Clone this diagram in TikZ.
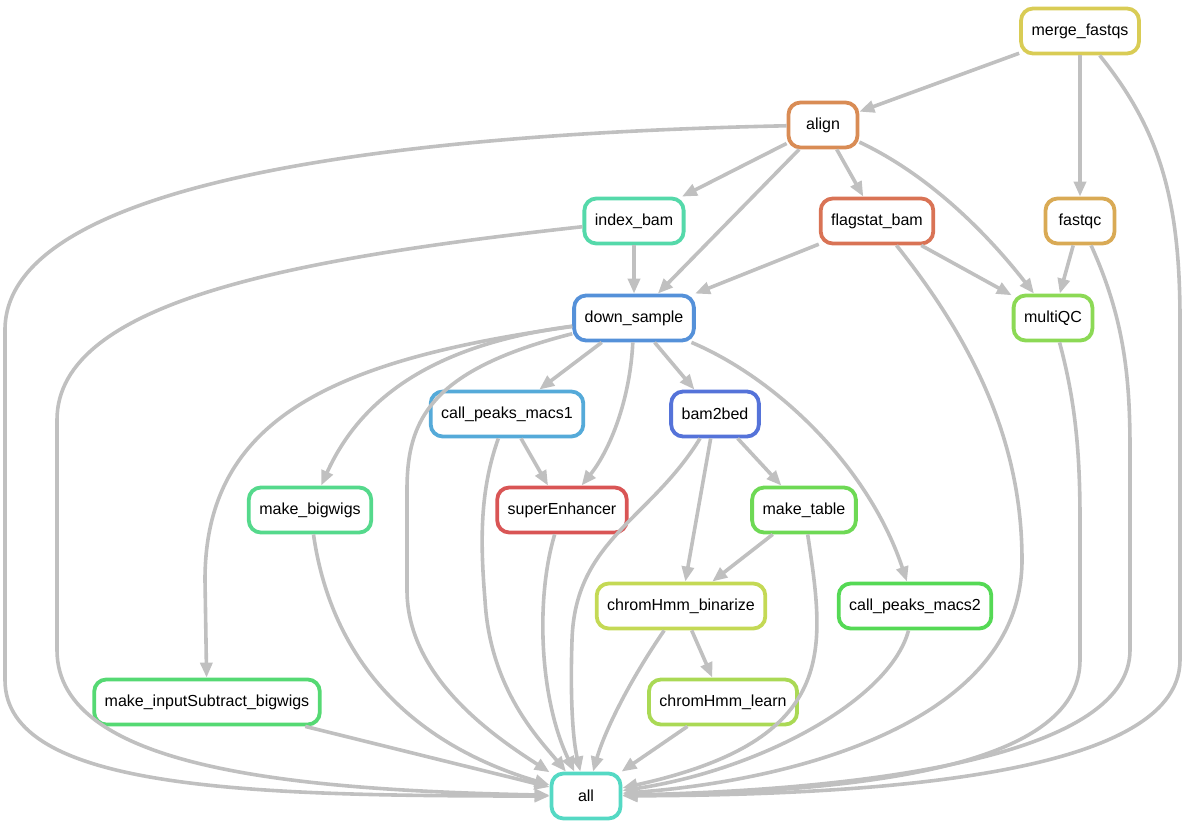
\documentclass[tikz,border=0pt]{standalone}
\usepackage{fontspec}
\setmainfont{Liberation Sans}
\usetikzlibrary{arrows.meta}

\definecolor{edgegray}{RGB}{192,192,192}
\definecolor{cmerge}{RGB}{217,204,85}
\definecolor{calign}{RGB}{217,140,85}
\definecolor{cindex}{RGB}{85,217,170}
\definecolor{cflagstat}{RGB}{217,115,85}
\definecolor{cfastqc}{RGB}{217,170,85}
\definecolor{cdown}{RGB}{85,145,217}
\definecolor{cmultiqc}{RGB}{140,217,85}
\definecolor{cmacsone}{RGB}{85,170,217}
\definecolor{cbamtobed}{RGB}{85,115,217}
\definecolor{cbigwigs}{RGB}{85,217,140}
\definecolor{csuper}{RGB}{217,85,85}
\definecolor{ctable}{RGB}{110,217,85}
\definecolor{cbinarize}{RGB}{196,217,85}
\definecolor{cmacstwo}{RGB}{85,217,85}
\definecolor{csubtract}{RGB}{85,217,115}
\definecolor{clearn}{RGB}{170,217,85}
\definecolor{call}{RGB}{85,217,196}

\begin{document}
\begin{tikzpicture}[x=1pt,y=-1pt,
  rule/.style={draw=#1, line width=3.8pt, rounded corners=12pt, fill=white,
    minimum width=69pt, minimum height=45pt, inner xsep=10.5pt,
    font=\fontsize{16}{19}\selectfont},
  edge/.style={draw=edgegray, line width=3.6pt,
    -{Triangle[length=15pt,width=12pt]}}
]
\useasboundingbox (0,0) rectangle (1187,827);

% rules
\node[rule=cmerge] (mergefastqs) at (1080,31) {merge\_fastqs};
\node[rule=calign] (align) at (823,125) {align};
\node[rule=cindex] (indexbam) at (634,221) {index\_bam};
\node[rule=cflagstat] (flagstatbam) at (877,221) {flagstat\_bam};
\node[rule=cfastqc] (fastqc) at (1080,221) {fastqc};
\node[rule=cdown] (downsample) at (634,318) {down\_sample};
\node[rule=cmultiqc] (multiqc) at (1053,318) {multiQC};
\node[rule=cmacsone] (macsone) at (507,414) {call\_peaks\_macs1};
\node[rule=cbamtobed] (bamtobed) at (715,414) {bam2bed};
\node[rule=cbigwigs] (makebigwigs) at (310,510) {make\_bigwigs};
\node[rule=csuper] (superenhancer) at (562,510) {superEnhancer};
\node[rule=ctable] (maketable) at (804,510) {make\_table};
\node[rule=cbinarize] (binarize) at (681,606) {chromHmm\_binarize};
\node[rule=cmacstwo] (macstwo) at (915,606) {call\_peaks\_macs2};
\node[rule=csubtract] (inputsubtract) at (207,702) {make\_inputSubtract\_bigwigs};
\node[rule=clearn] (learn) at (723,702) {chromHmm\_learn};
\node[rule=call] (all) at (586,796) {all};

% straight edges
\draw[edge] (mergefastqs) -- (align);
\draw[edge] (mergefastqs) -- (fastqc);
\draw[edge] (align) -- (indexbam);
\draw[edge] (align) -- (downsample);
\draw[edge] (align) -- (flagstatbam);
\draw[edge] (indexbam) -- (downsample);
\draw[edge] (flagstatbam) -- (downsample);
\draw[edge] (flagstatbam) -- (multiqc);
\draw[edge] (fastqc) -- (multiqc);
\draw[edge] (downsample) -- (macsone);
\draw[edge] (downsample) -- (bamtobed);
\draw[edge] (macsone) -- (superenhancer);
\draw[edge] (bamtobed) -- (maketable);
\draw[edge] (bamtobed) -- (binarize);
\draw[edge] (maketable) -- (binarize);
\draw[edge] (binarize) -- (learn);
\draw[edge] (learn) -- (all);
\draw[edge] (inputsubtract) -- (all);

% curved edges
\draw[edge] (align) .. controls (940,180) and (1000,250) .. (multiqc);
\draw[edge] (downsample) .. controls (630,400) and (610,450) .. (superenhancer);
\draw[edge] (downsample) .. controls (780,380) and (870,470) .. (macstwo);
\draw[edge] (downsample) .. controls (430,345) and (360,400) .. (makebigwigs);
\draw[edge] (downsample) .. controls (330,360) and (205,420) .. (205,580) -- (inputsubtract);

% edges into all
\draw[edge] (align) .. controls (350,135) and (5,190) .. (5,330) -- (5,680)
  .. controls (5,790) and (250,796) .. (all);
\draw[edge] (indexbam) .. controls (300,258) and (57,300) .. (57,420) -- (57,650)
  .. controls (57,770) and (300,790) .. (all);
\draw[edge] (downsample) .. controls (430,370) and (407,420) .. (407,490) -- (407,590)
  .. controls (407,680) and (500,740) .. (all);
\draw[edge] (makebigwigs) .. controls (330,650) and (400,740) .. (all);
\draw[edge] (macsone) .. controls (480,490) and (480,540) .. (485,600)
  .. controls (490,690) and (540,740) .. (all);
\draw[edge] (superenhancer) .. controls (535,600) and (540,700) .. (all);
\draw[edge] (bamtobed) .. controls (650,520) and (575,540) .. (572,640)
  .. controls (570,700) and (573,740) .. (all);
\draw[edge] (binarize) .. controls (630,680) and (605,730) .. (all);
\draw[edge] (maketable) .. controls (825,650) and (840,740) .. (all);
\draw[edge] (macstwo) .. controls (890,700) and (760,770) .. (all);
\draw[edge] (flagstatbam) .. controls (980,350) and (1022,450) .. (1022,560)
  .. controls (1022,720) and (800,780) .. (all);
\draw[edge] (multiqc) .. controls (1075,400) and (1080,450) .. (1080,520) -- (1080,660)
  .. controls (1080,770) and (850,792) .. (all);
\draw[edge] (fastqc) .. controls (1125,320) and (1130,380) .. (1130,450) -- (1130,650)
  .. controls (1130,760) and (850,790) .. (all);
\draw[edge] (mergefastqs) .. controls (1160,130) and (1180,200) .. (1180,320) -- (1180,660)
  .. controls (1180,780) and (850,795) .. (all);

\end{tikzpicture}
\end{document}
